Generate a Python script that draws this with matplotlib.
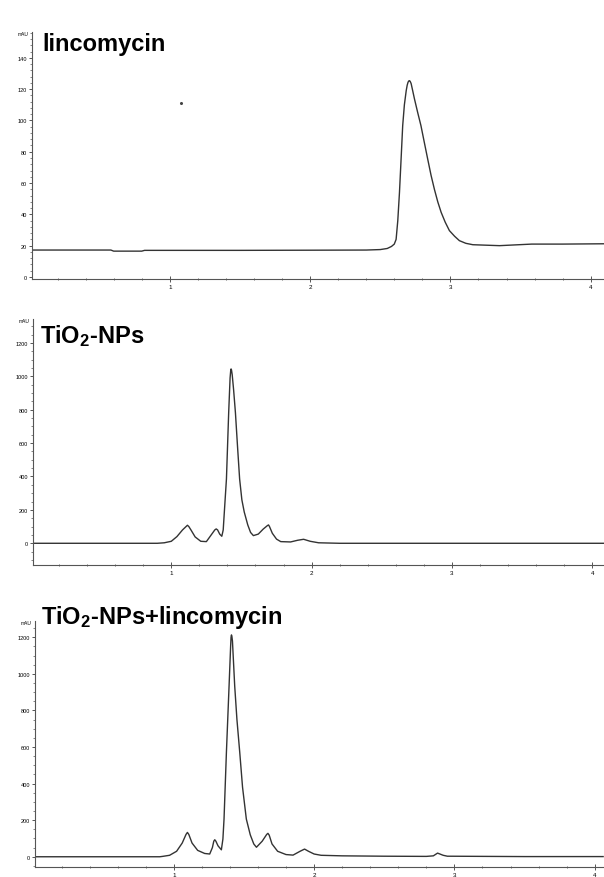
import numpy as np
import matplotlib
matplotlib.use('Agg')
import matplotlib.pyplot as plt
from matplotlib.ticker import MultipleLocator

plt.rcParams['font.family'] = ['Liberation Sans', 'DejaVu Sans']
plt.rcParams['mathtext.fontset'] = 'custom'
plt.rcParams['mathtext.rm'] = 'Liberation Sans:bold'
plt.rcParams['mathtext.it'] = 'Liberation Sans:bold'
plt.rcParams['mathtext.bf'] = 'Liberation Sans:bold'

# retention time (min) / signal (mAU)
linc_t = [0.02, 0.58, 0.60, 0.80, 0.82, 1.50, 2.00, 2.40, 2.50, 2.55, 2.58, 2.60,
          2.613, 2.625, 2.637, 2.65, 2.66, 2.672, 2.685, 2.692, 2.698, 2.703, 2.708,
          2.713, 2.72, 2.73, 2.744, 2.767, 2.79, 2.814, 2.838, 2.862, 2.886, 2.91,
          2.934, 2.963, 2.993, 3.03, 3.064, 3.11, 3.16, 3.35, 3.58, 3.80, 4.09]
linc_y = [17.2, 17.2, 16.5, 16.5, 17.0, 17.0, 17.1, 17.2, 17.5, 18.2, 19.5, 21.0,
          24.0, 36.0, 54.0, 78.0, 96.7, 110.0, 119.0, 122.5, 124.4, 125.2, 125.4,
          125.0, 123.6, 119.5, 113.7, 105.0, 96.7, 86.0, 75.4, 65.0, 56.0, 48.0,
          41.3, 35.0, 29.6, 26.0, 23.2, 21.5, 20.6, 20.0, 21.0, 21.0, 21.2]
speck_t = [1.078]
speck_y = [111]

tio2_t = [0.02, 0.90, 0.95, 1.00, 1.04, 1.08, 1.105, 1.115, 1.125, 1.14, 1.17, 1.21,
          1.25, 1.28, 1.31, 1.32, 1.33, 1.345, 1.36, 1.37, 1.378, 1.393, 1.409, 1.419,
          1.423, 1.426, 1.429, 1.434, 1.444, 1.457, 1.472, 1.487, 1.503, 1.52, 1.545,
          1.565, 1.585, 1.62, 1.655, 1.685, 1.693, 1.70, 1.72, 1.75, 1.78, 1.85,
          1.90, 1.943, 1.99, 2.05, 2.20, 4.09]
tio2_y = [0, 0, 3, 12, 40, 80, 100, 108, 100, 80, 38, 12,
          10, 45, 80, 86, 80, 55, 42, 80, 187, 385, 783, 990,
          1030, 1044, 1038, 1010, 920, 783, 580, 385, 260, 187, 110,
          65, 46, 55, 85, 106, 110, 100, 60, 25, 10, 8,
          18, 24, 12, 3, 0, 0]

mix_t = [0.011, 0.90, 0.92, 0.97, 1.02, 1.06, 1.087, 1.097, 1.107, 1.13, 1.17, 1.22,
         1.256, 1.275, 1.285, 1.292, 1.30, 1.315, 1.339, 1.35, 1.358, 1.375, 1.394,
         1.405, 1.408, 1.411, 1.414, 1.418, 1.434, 1.45, 1.47, 1.49, 1.517, 1.545,
         1.57, 1.589, 1.63, 1.662, 1.671, 1.68, 1.70, 1.74, 1.80, 1.85, 1.90, 1.932,
         1.96, 2.00, 2.05, 2.20, 2.50, 2.80, 2.85, 2.88, 2.92, 2.95, 3.50, 4.06]
mix_y = [0, 0, 2, 8, 30, 75, 122, 133, 122, 75, 35, 18,
         15, 50, 85, 93, 85, 60, 38, 97, 206, 571, 935,
         1150, 1200, 1213, 1205, 1180, 935, 750, 571, 380, 206, 120,
         70, 52, 85, 122, 128, 118, 70, 30, 12, 9, 30, 42,
         30, 15, 8, 5, 3, 2, 5, 20, 8, 3, 1, 1]

W, H = 604, 878
fig = plt.figure(figsize=(W / 100, H / 100), dpi=100)

# panel: (left px, top px, bottom px, x origin px, ylim, major, minor, data, title, title xy)
panels = [
    (32, 33, 280, 29.5, (-1.3, 156.5), 20, 4, linc_t, linc_y, 'lincomycin', (42, 51)),
    (33, 320, 566, 31.0, (-130, 1343), 200, 50, tio2_t, tio2_y, r'TiO$_2$-NPs', (40, 343)),
    (35, 622, 868, 33.5, (-56, 1289), 200, 50, mix_t, mix_y, r'TiO$_2$-NPs+lincomycin', (41, 624)),
]
px_per_min = 140.3
gray = '#555555'

axes = []
for (L, T, B, x0, ylim, major, minor, tt, yy, title, (tx, ty)) in panels:
    ax = fig.add_axes([L / W, 1 - B / H, (W - L) / W, (B - T) / H])
    ax.plot(tt, yy, color='#333333', lw=1.0)
    ax.set_xlim((L - x0) / px_per_min, (W - x0) / px_per_min)
    ax.set_ylim(*ylim)
    ax.spines['top'].set_visible(False)
    ax.spines['right'].set_visible(False)
    for s in ('left', 'bottom'):
        ax.spines[s].set_color(gray)
        ax.spines[s].set_linewidth(0.8)
    ax.xaxis.set_major_locator(MultipleLocator(1))
    ax.xaxis.set_minor_locator(MultipleLocator(0.2))
    ax.yaxis.set_major_locator(MultipleLocator(major))
    ax.yaxis.set_minor_locator(MultipleLocator(minor))
    ax.set_xticks([1, 2, 3, 4])
    ax.set_yticks(np.arange(0, ylim[1], major))
    ax.tick_params(axis='x', which='major', direction='inout', length=5, width=0.7,
                   color=gray, labelsize=4.5, pad=1)
    ax.tick_params(axis='x', which='minor', direction='inout', length=2, width=0.6, color=gray)
    ax.tick_params(axis='y', which='major', direction='out', length=2.5, width=0.7,
                   color=gray, labelsize=4, pad=1)
    ax.tick_params(axis='y', which='minor', direction='out', length=1.3, width=0.5, color=gray)
    ax.text(-0.006, 0.995, 'mAU', transform=ax.transAxes, ha='right', va='center',
            fontsize=3.5)
    fig.text(tx / W, 1 - ty / H, title, fontsize=17, fontweight='bold', ha='left',
             va='baseline')
    axes.append(ax)

axes[0].plot(speck_t, speck_y, 'o', color='#444444', ms=1.2)

fig.savefig('out.png', dpi=100)
